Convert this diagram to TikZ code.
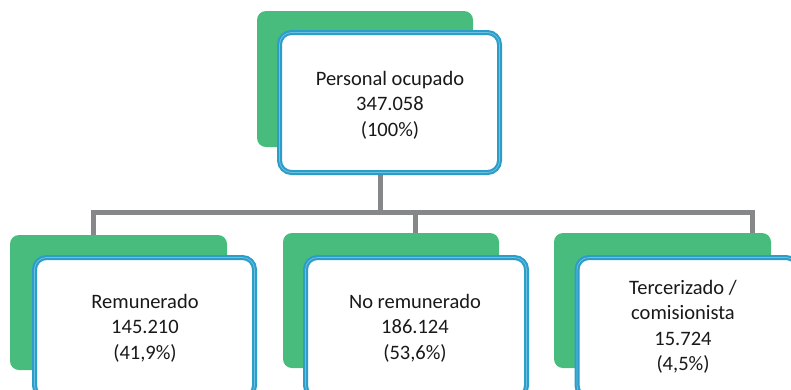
\documentclass[tikz,border=0pt]{standalone}
\usepackage{fontspec}
\setmainfont{Carlito}
\usetikzlibrary{backgrounds}
\definecolor{boxgreen}{HTML}{48BC7D}
\definecolor{boxblue}{HTML}{2C9CC8}
\definecolor{boxblueinner}{HTML}{6CC0E0}
\definecolor{linkgray}{HTML}{86878A}
\tikzset{
  greenbox/.style={fill=boxgreen, rounded corners=9pt, inner sep=0pt},
  whitebox/.style={fill=white, draw=boxblue, double=boxblueinner, double distance=0.8pt, line width=2.1pt,
    rounded corners=12pt, inner sep=0pt},
  label/.style={align=center, font=\fontsize{20.5}{25.5}\selectfont, text=black!90, inner sep=0pt},
  link/.style={draw=linkgray, line width=5pt}
}
\begin{document}
\begin{tikzpicture}[x=1pt,y=-1pt]
\useasboundingbox (0,0) rectangle (791,389);
\clip (0,0) rectangle (791,389);
% top
\node[greenbox, minimum width=216pt, minimum height=136pt] (g0) at (365,79) {};
\node[whitebox, minimum width=220pt, minimum height=140pt] (top) at (389.5,102.5) {};
\node[label] (t0) at (390,105) {Personal ocupado\\347.058\\(100\%)};
% children
\node[greenbox, minimum width=217pt, minimum height=135pt] (g1) at (118.5,302.5) {};
\node[whitebox, minimum width=220pt, minimum height=140pt] (c1) at (144.5,327.5) {};
\node[greenbox, minimum width=216pt, minimum height=135pt] (g2) at (391,300.5) {};
\node[whitebox, minimum width=221pt, minimum height=140pt] (c2) at (416,327.5) {};
\node[greenbox, minimum width=217pt, minimum height=135pt] (g3) at (662.5,300.5) {};
\node[whitebox, minimum width=221pt, minimum height=140pt] (c3) at (687.5,327.5) {};
% texts
\node[label] (t1) at (145,328) {Remunerado\\145.210\\(41,9\%)};
\node[label] (t2) at (415,328) {No remunerado\\186.124\\(53,6\%)};
\node[label] (t3) at (683,327) {Tercerizado /\\comisionista\\15.724\\(4,5\%)};
% connectors
\coordinate (j0) at (380,212);
\coordinate (j1) at (93,212);
\coordinate (j2) at (415,212);
\coordinate (j3) at (752,212);
\begin{scope}[on background layer]
\draw[link] (top.south -| j0) -- (j0);
\draw[link] (g1.north -| j1) -- (j1) -- (j3) -- (g3.north -| j3);
\draw[link] (j2) -- (g2.north -| j2);
\end{scope}
\end{tikzpicture}
\end{document}
